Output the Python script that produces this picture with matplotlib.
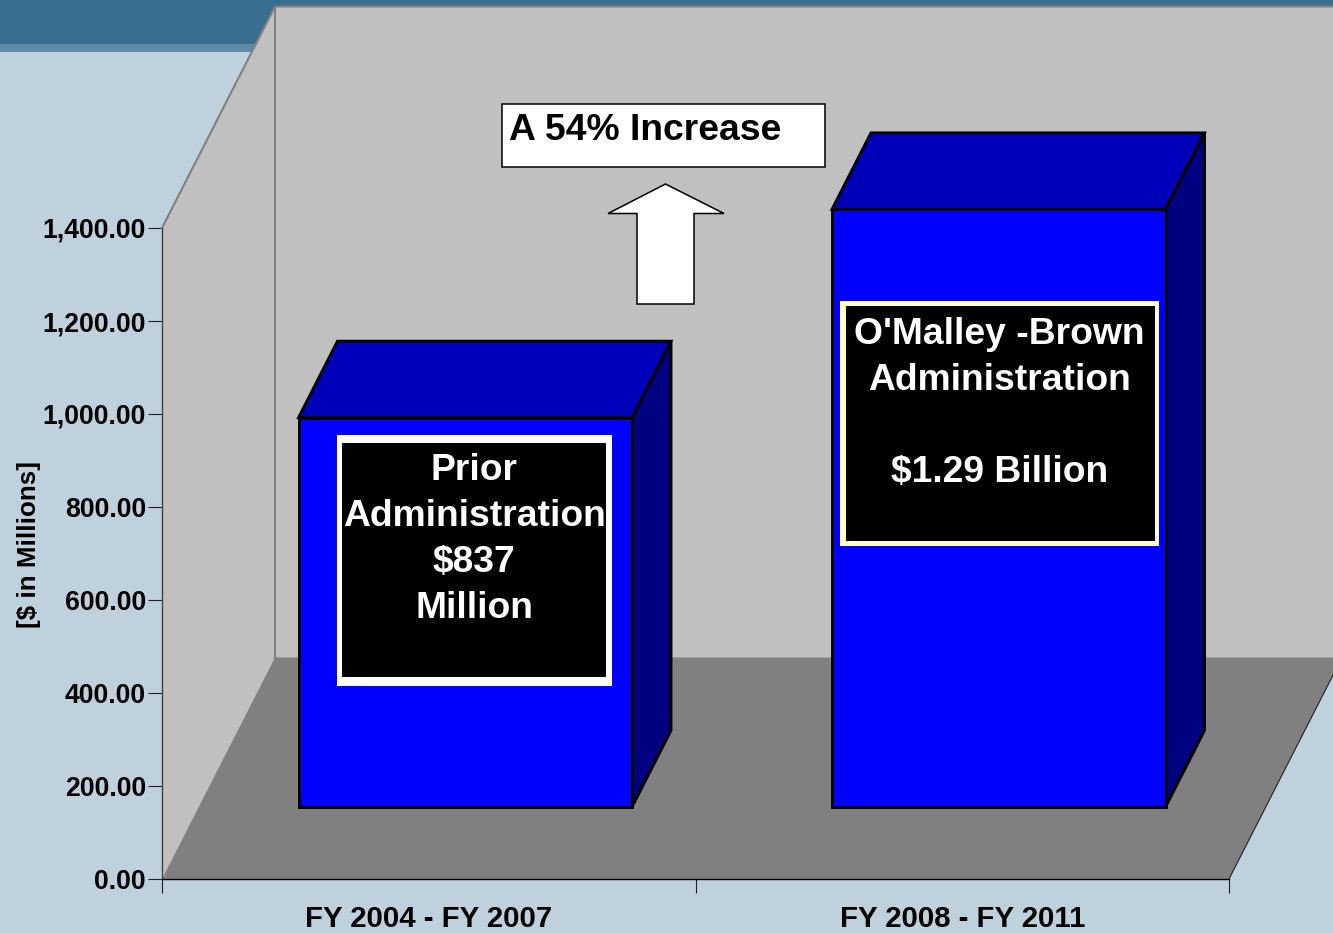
import matplotlib
matplotlib.use("Agg")
import matplotlib.pyplot as plt
from matplotlib.patches import Polygon, Rectangle

plt.rcParams['font.family'] = ['Liberation Sans', 'DejaVu Sans']
plt.rcParams['font.weight'] = 'bold'

# ---- data ----
categories = ["FY 2004 - FY 2007", "FY 2008 - FY 2011"]
values = [837, 1285]
y_ticks = [0, 200, 400, 600, 800, 1000, 1200, 1400]
y_label = "[$ in Millions]"
bar_notes = ["Prior\nAdministration\n$837\nMillion",
             "O'Malley -Brown\nAdministration\n\n$1.29 Billion"]
callout = "A 54% Increase"

# ---- figure ----
W, H = 1333, 933
BG = '#BFD1DC'
fig = plt.figure(figsize=(W / 100, H / 100), dpi=100, facecolor=BG)

# pixel-space layer for slide decoration and annotations
deco = fig.add_axes([0, 0, 1, 1], zorder=0)
deco.set_xlim(0, W)
deco.set_ylim(H, 0)
deco.axis('off')
deco.add_patch(Rectangle((0, 0), W, 44, fc='#3A6E8F', ec='none'))
deco.add_patch(Rectangle((0, 44), W, 8, fc='#5E8AA3', ec='none'))

# chart axes
PX_L, PX_R, PX_T, PX_B = 162, 1229, 228, 879
ax = fig.add_axes([PX_L / W, 1 - PX_B / H, (PX_R - PX_L) / W, (PX_B - PX_T) / H], zorder=1)
ax.patch.set_alpha(0)
ax.set_xlim(0, len(categories))
ax.set_ylim(y_ticks[0], y_ticks[-1])
px_x = len(categories) / (PX_R - PX_L)
px_y = y_ticks[-1] / (PX_B - PX_T)

# depth of the 3D box, in data units
DX, DY = 113 * px_x, 221.5 * px_y
TOP = y_ticks[-1]
XMAX = len(categories)
WALL, FLOOR, EDGE = '#C0C0C0', '#808080', '#808080'


def poly(pts, fc, ec='none', lw=0.0, z=2):
    ax.add_patch(Polygon(pts, closed=True, fc=fc, ec=ec, lw=lw, zorder=z,
                         clip_on=False, joinstyle='miter'))


# back wall, left wall, floor
poly([(DX, DY), (XMAX + DX, DY), (XMAX + DX, TOP + DY), (DX, TOP + DY)], WALL)
poly([(0, 0), (DX, DY), (DX, TOP + DY), (0, TOP)], WALL)
poly([(0, 0), (XMAX, 0), (XMAX + DX, DY), (DX, DY)], FLOOR)
ax.plot([0, DX, XMAX + DX], [TOP, TOP + DY, TOP + DY], color=EDGE, lw=1.5, clip_on=False, zorder=3)
ax.plot([DX, DX], [DY, TOP + DY], color=EDGE, lw=1.5, clip_on=False, zorder=3)
ax.plot([XMAX, XMAX + DX], [0, DY], color='#202020', lw=0.8, clip_on=False, zorder=3)

# 3D bars
BAR_W = 333.5 * px_x
OFF_X, OFF_Y = 36.5 * px_x, 155.0
BAR_DX, BAR_DY = 39 * px_x, 76.5 * px_y
for i, v in enumerate(values):
    x0 = i + 0.5 + OFF_X - BAR_W / 2
    x1 = x0 + BAR_W
    y0, y1 = OFF_Y, OFF_Y + v
    kw = dict(ec='black', lw=2.1, z=4)
    poly([(x1, y0), (x1 + BAR_DX, y0 + BAR_DY), (x1 + BAR_DX, y1 + BAR_DY), (x1, y1)], '#000080', **kw)
    poly([(x0, y1), (x1, y1), (x1 + BAR_DX, y1 + BAR_DY), (x0 + BAR_DX, y1 + BAR_DY)], '#0000BB', **kw)
    poly([(x0, y0), (x1, y0), (x1, y1), (x0, y1)], '#0000FF', **kw)

# axes furniture
for s in ('top', 'right'):
    ax.spines[s].set_visible(False)
ax.spines['left'].set_color('#404040')
ax.spines['left'].set_linewidth(1.0)
ax.spines['bottom'].set_color('black')
ax.spines['bottom'].set_linewidth(1.0)
for s in ('left', 'bottom'):
    ax.spines[s].set_zorder(5)
ax.set_yticks(y_ticks)
ax.set_yticklabels([f"{t:,.2f}" for t in y_ticks], fontsize=19.2, fontweight='bold')
ax.tick_params(axis='y', length=10, width=0.8, color='#202020', pad=1.5)
ax.set_xticks(range(len(categories) + 1))
ax.set_xticklabels([])
ax.tick_params(axis='x', which='major', length=10, width=0.8, color='#202020')
ax.set_xticks([i + 0.5 for i in range(len(categories))], minor=True)
ax.set_xticklabels(categories, minor=True, fontsize=21.2, fontweight='bold')
ax.tick_params(axis='x', which='minor', length=0, pad=19)
ax.set_ylabel(y_label, fontsize=18.7, fontweight='bold')
ax.yaxis.set_label_coords((41 - PX_L) / (PX_R - PX_L), (PX_B - 545) / (PX_B - PX_T))

# overlay layer for annotations
top = fig.add_axes([0, 0, 1, 1], zorder=2)
top.set_xlim(0, W)
top.set_ylim(H, 0)
top.axis('off')

# callout box and arrow
top.add_patch(Rectangle((502, 103.5), 323, 63, fc='white', ec='black', lw=1.1))
top.text(509, 131, callout, fontsize=26.8, fontweight='bold', color='black',
         ha='left', va='center')
top.add_patch(Polygon([(665.5, 184), (724, 213.5), (694, 213.5), (694, 304), (637, 304),
                       (637, 213.5), (608, 213.5)], closed=True, fc='white', ec='black', lw=1.1))

# note boxes on the bars
top.add_patch(Rectangle((337, 435), 275, 251, fc='white', ec='none'))
top.add_patch(Rectangle((342, 443), 264, 234, fc='black', ec='none'))
top.text(474, 539.5, bar_notes[0], fontsize=26.8, fontweight='bold', color='white',
         ha='center', va='center', linespacing=1.41, multialignment='center')
top.add_patch(Rectangle((840, 301), 319, 245, fc='#FFFFD0', ec='none'))
top.add_patch(Rectangle((846, 306), 309, 235, fc='black', ec='none'))
top.text(999.5, 403.5, bar_notes[1], fontsize=26.8, fontweight='bold', color='white',
         ha='center', va='center', linespacing=1.41, multialignment='center')

fig.savefig('out.png', dpi=100, facecolor=BG)
